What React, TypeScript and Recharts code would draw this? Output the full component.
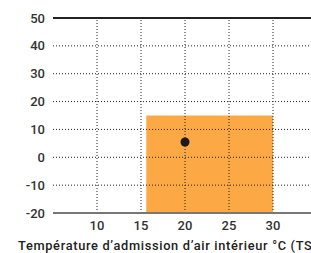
import React from 'react';
import {
  ComposedChart,
  Scatter,
  XAxis,
  YAxis,
  ReferenceArea,
  ReferenceLine,
} from 'recharts';

const X_TICKS = [10, 15, 20, 25, 30];
const Y_TICKS = [-20, -10, 0, 10, 20, 30, 40, 50];
const X_GRID = [10, 15, 20, 25, 30];
const Y_GRID = [-10, 0, 10, 20, 30, 40];
const ZONE_X = [15.6, 30];
const ZONE_Y = [-20, 15];
const POINTS = [{ x: 20, y: 5.5 }];

const tickStyle = { fill: '#333', fontSize: 13, fontWeight: 500, fontFamily: 'Roboto' };

export default function App() {
  return (
    <div style={{ position: 'absolute', left: 0, top: 0, width: 311, height: 253, overflow: 'hidden' }}>
      <ComposedChart width={330} height={253} margin={{ top: 18, right: 13, bottom: 0, left: 0 }}>
        <XAxis
          type="number"
          dataKey="x"
          domain={[5, 35]}
          ticks={X_TICKS}
          tickLine={false}
          axisLine={{ stroke: '#777', strokeWidth: 2 }}
          tick={tickStyle}
          height={40}
          label={{
            value: 'Température d’admission d’air intérieur °C (TS)',
            position: 'insideBottomLeft',
            dx: -40,
            dy: 2,
            style: { fill: '#222', fontSize: 12.8, fontWeight: 500, fontFamily: 'Roboto', letterSpacing: 0.68 },
          }}
        />
        <YAxis
          type="number"
          dataKey="y"
          domain={[-20, 50]}
          ticks={Y_TICKS}
          tickLine={false}
          axisLine={false}
          tick={tickStyle}
          width={53}
        />
        <ReferenceArea
          x1={ZONE_X[0]}
          x2={ZONE_X[1]}
          y1={ZONE_Y[0]}
          y2={ZONE_Y[1]}
          fill="#FBA845"
          fillOpacity={1}
          stroke="none"
        />
        {X_GRID.map((v) => (
          <ReferenceLine key={'x' + v} x={v} stroke="#222" strokeDasharray="1 2" strokeWidth={1} />
        ))}
        {Y_GRID.map((v) => (
          <ReferenceLine key={'y' + v} y={v} stroke="#222" strokeDasharray="1 2" strokeWidth={1} />
        ))}
        <ReferenceLine y={50} stroke="#222" strokeWidth={2} />
        <Scatter data={POINTS} fill="#1a1a1a" shape="circle" isAnimationActive={false} />
      </ComposedChart>
    </div>
  );
}
